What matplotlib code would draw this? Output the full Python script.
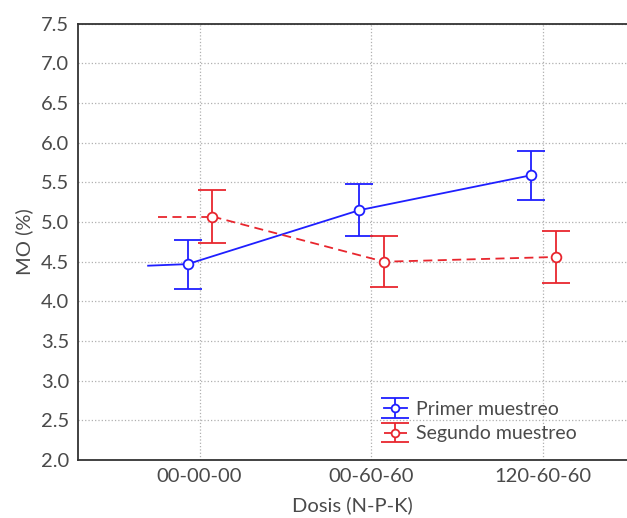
import numpy as np
import matplotlib.pyplot as plt

# Materia orgánica por dosis de fertilización
dosis = ['00-00-00', '00-60-60', '120-60-60']
mo_primer = [4.47, 5.15, 5.59]
err_primer = [0.31, 0.33, 0.31]
mo_segundo = [5.07, 4.50, 4.56]
err_segundo = [0.33, 0.32, 0.33]
# tramo inicial de cada línea (posición en x, valor)
inicio_primer = (-0.30, 4.45)
inicio_segundo = (-0.245, 5.07)

plt.rcParams['font.family'] = ['Lato', 'DejaVu Sans']
gris = '#4a4a4a'
azul = '#1f1fff'
rojo = '#e8262e'

fig = plt.figure(figsize=(6.27, 5.18), dpi=100)
ax = fig.add_axes([0.124, 0.112, 0.876, 0.842])

x = np.arange(len(dosis))
xb = x - 0.07
xr = x + 0.075

ax.plot([inicio_primer[0], xb[0]], [inicio_primer[1], mo_primer[0]], color=azul, lw=1.3)
ax.plot([inicio_segundo[0], xr[0]], [inicio_segundo[1], mo_segundo[0]], color=rojo, lw=1.3, ls=(0, (5, 3)))

ax.errorbar(xb, mo_primer, yerr=err_primer, color=azul, lw=1.3, marker='o', ms=7,
            mfc='white', mec=azul, mew=1.3, capsize=10, capthick=1.6,
            label='Primer muestreo')
ax.errorbar(xr, mo_segundo, yerr=err_segundo, color=rojo, lw=1.3, ls=(0, (5, 3)),
            marker='o', ms=7, mfc='white', mec=rojo, mew=1.3, capsize=10,
            capthick=1.6, label='Segundo muestreo')

ax.set_xlim(-0.71, 2.49)
ax.set_ylim(2.0, 7.5)
ax.set_yticks(np.arange(2.0, 7.51, 0.5))
ax.set_yticklabels([f'{v:.1f}' for v in np.arange(2.0, 7.51, 0.5)])
ax.set_xticks(x)
ax.set_xticklabels(dosis)
ax.tick_params(length=0, labelsize=14.5, colors=gris, pad=6)
ax.grid(color='#b0b0b0', ls=':', lw=0.9)
ax.set_axisbelow(True)

for s in ['left', 'bottom', 'top']:
    ax.spines[s].set_color('#333333')
    ax.spines[s].set_linewidth(1.3)
ax.spines['right'].set_visible(False)

ax.set_xlabel('Dosis (N-P-K)', fontsize=14.5, color=gris, labelpad=8)
ax.set_ylabel('MO (%)', fontsize=14.5, color=gris, labelpad=6)

leg = ax.legend(loc='lower left', bbox_to_anchor=(0.525, 0.0), frameon=False,
                fontsize=14, handlelength=1.2, handletextpad=0.45, labelspacing=0.4,
                markerscale=0.8)
for t in leg.get_texts():
    t.set_color(gris)

fig.savefig('out.png', dpi=100)
